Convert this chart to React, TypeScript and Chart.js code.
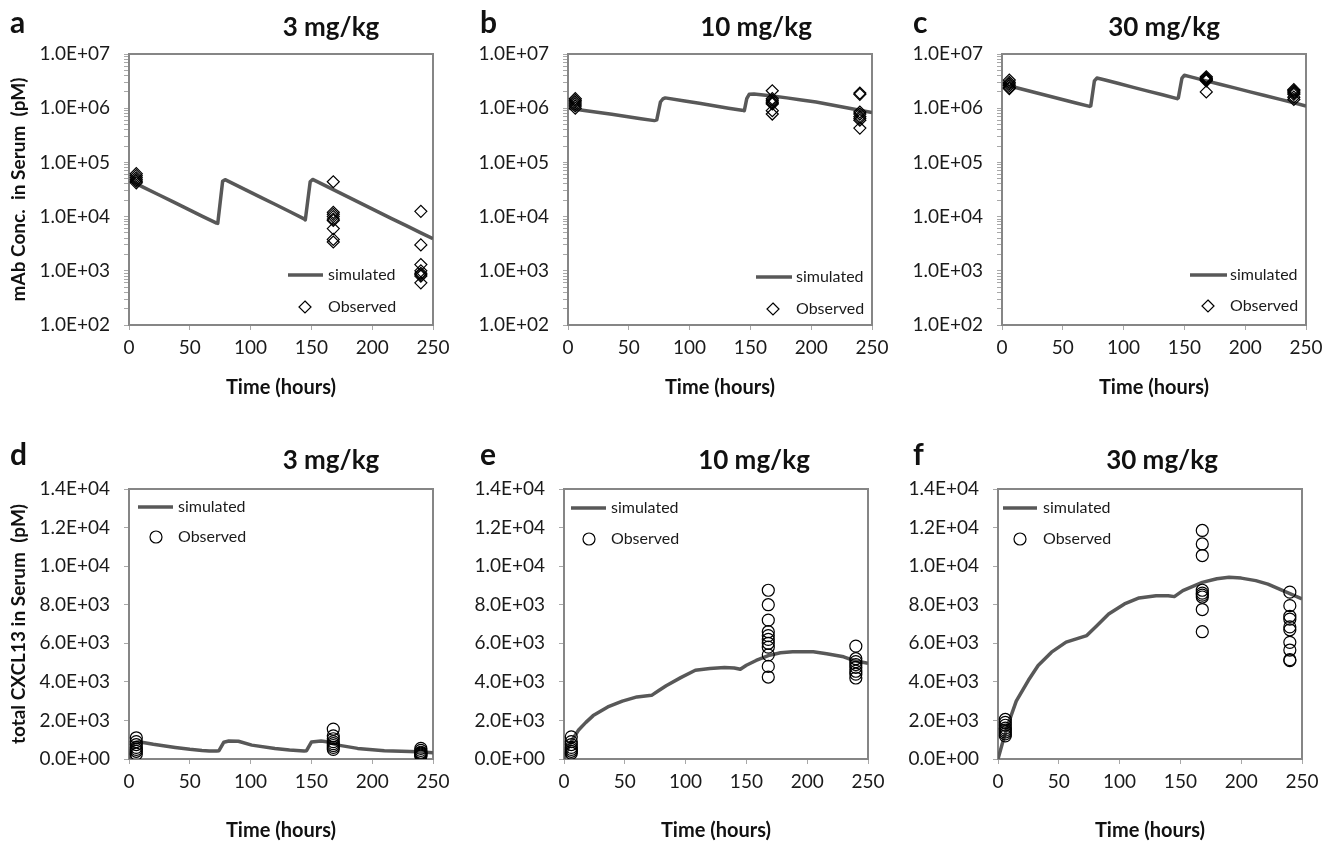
import React, { useEffect, useRef } from 'react';
import { Chart, registerables } from 'chart.js';

Chart.register(...registerables);

const FONT = 'Lato, "Open Sans", sans-serif';

// ---------------- data ----------------
const OBS_TIMES = [6, 168, 240];
const X_TICKS = [0, 50, 100, 150, 200, 250];
const LOG_DECADES = [1e2, 1e3, 1e4, 1e5, 1e6, 1e7];
const LIN_TICKS = [0, 2000, 4000, 6000, 8000, 10000, 12000, 14000];

// a: mAb 3 mg/kg
const simTimeA = [1, 12, 24, 36, 48, 60, 72, 73, 77, 79, 84, 96, 108, 120, 132, 144, 145, 149, 151, 156, 168, 180, 192, 204, 216, 228, 240, 250];
const simMabA = [46000, 34700, 25600, 18900, 13900, 10200, 7600, 7500, 45000, 48000, 42300, 31100, 22900, 16900, 12400, 9100, 8700, 44000, 48500, 42700, 31400, 23100, 17000, 12500, 9200, 6800, 5000, 3900];
const obsMabA = [
  [62000, 57000, 52000, 48000, 45000, 42000],
  [44000, 12000, 11000, 10000, 9000, 8500, 6000, 3800, 3400],
  [12500, 3000, 1300, 1000, 900, 850, 800, 600],
];

// b: mAb 10 mg/kg
const simTimeB = [1, 12, 24, 36, 48, 60, 71, 73, 76, 78, 80, 96, 108, 120, 132, 143, 145, 147, 149, 153, 168, 180, 192, 204, 216, 228, 240, 250];
const simMabB = [1.0e6, 9.2e5, 8.4e5, 7.7e5, 7.0e5, 6.4e5, 5.9e5, 6.1e5, 1.3e6, 1.48e6, 1.55e6, 1.36e6, 1.23e6, 1.11e6, 1.0e6, 9.2e5, 9.0e5, 1.5e6, 1.8e6, 1.83e6, 1.68e6, 1.55e6, 1.42e6, 1.3e6, 1.16e6, 1.03e6, 9.2e5, 8.3e5];
const obsMabB = [
  [1.5e6, 1.4e6, 1.3e6, 1.2e6, 1.1e6, 1.0e6],
  [2.1e6, 1.5e6, 1.4e6, 1.3e6, 1.25e6, 1.2e6, 9.0e5, 7.8e5],
  [1.9e6, 1.8e6, 8.5e5, 7.8e5, 7.0e5, 6.5e5, 6.0e5, 4.3e5],
];

// c: mAb 30 mg/kg
const simTimeC = [1, 12, 24, 36, 48, 60, 72, 73, 76, 78, 84, 96, 108, 120, 132, 144, 145, 148, 150, 156, 168, 180, 192, 204, 216, 228, 240, 250];
const simMabC = [2.75e6, 2.38e6, 2.03e6, 1.73e6, 1.48e6, 1.26e6, 1.08e6, 1.1e6, 3.2e6, 3.6e6, 3.35e6, 2.85e6, 2.42e6, 2.07e6, 1.77e6, 1.5e6, 1.55e6, 3.6e6, 4.05e6, 3.75e6, 3.2e6, 2.74e6, 2.35e6, 2.0e6, 1.72e6, 1.47e6, 1.26e6, 1.1e6];
const obsMabC = [
  [3.3e6, 3.0e6, 2.8e6, 2.6e6, 2.4e6, 2.3e6],
  [3.8e6, 3.6e6, 3.5e6, 3.4e6, 3.3e6, 3.2e6, 2.0e6],
  [2.2e6, 2.1e6, 2.0e6, 1.9e6, 1.8e6, 1.6e6, 1.45e6],
];

// d: CXCL13 3 mg/kg
const simTimeD = [0, 4, 8, 20, 38, 50, 60, 66, 72, 74, 78, 82, 90, 101, 120, 132, 144, 146, 150, 158, 164, 172, 188, 210, 224, 238, 250];
const simCxclD = [0, 850, 890, 760, 600, 500, 440, 420, 413, 430, 870, 930, 920, 720, 550, 470, 413, 430, 880, 930, 880, 720, 550, 430, 400, 380, 330];
const obsCxclD = [
  [1100, 900, 750, 600, 500, 400, 250],
  [1550, 1200, 1050, 900, 800, 700, 600, 500],
  [550, 450, 350, 300, 250, 200, 150],
];

// e: CXCL13 10 mg/kg
const simTimeE = [0, 3, 6, 12, 18, 24, 36, 48, 60, 72, 78, 84, 96, 108, 120, 132, 140, 145, 150, 158, 168, 178, 188, 205, 216, 230, 238, 250];
const simCxclE = [0, 500, 920, 1500, 1900, 2250, 2700, 3000, 3220, 3300, 3550, 3800, 4220, 4600, 4690, 4740, 4720, 4650, 4860, 5110, 5360, 5510, 5560, 5560, 5460, 5300, 5110, 4960];
const obsCxclE = [
  [1150, 900, 750, 600, 500, 400, 300],
  [8750, 8000, 7200, 6600, 6400, 6200, 6000, 5800, 5400, 4800, 4250],
  [5850, 5200, 5050, 4900, 4750, 4550, 4400, 4200],
];

// f: CXCL13 30 mg/kg
const simTimeF = [0, 4, 8.5, 15, 25, 33, 44, 56, 69, 73, 80, 91, 104, 116, 130, 140, 145, 152, 168, 180, 190, 200, 212, 222, 231, 240, 250];
const simCxclF = [0, 900, 1840, 3000, 4080, 4850, 5540, 6060, 6320, 6400, 6830, 7520, 8040, 8350, 8470, 8470, 8420, 8730, 9160, 9350, 9420, 9380, 9250, 9070, 8820, 8580, 8300];
const obsCxclF = [
  [2050, 1900, 1750, 1600, 1500, 1400, 1300, 1200],
  [11850, 11150, 10550, 8750, 8600, 8500, 8400, 7750, 6600],
  [8650, 7950, 7400, 7250, 6850, 6700, 6050, 5650, 5150, 5100],
];

// ---------------- layout / style ----------------
const SIM_COLOR = '#585858';
const FRAME_COLOR = '#868686';
const TICK_COLOR = '#a8a8a8';
const TEXT_COLOR = '#1a1a1a';

type Legend = { lineX1: number; lineX2: number; lineY: number; textX: number; markerX: number; markerY: number };
type PanelCfg = {
  id: string;
  letter: string;
  title: string;
  canvas: [number, number, number, number];
  plot: [number, number, number, number];
  letterPos: [number, number];
  titlePos: [number, number];
  legend: Legend;
  log: boolean;
  yTitle: string;
  yTitleX: number;
  xTitleY: number;
  marker: 'rectRot' | 'circle';
  simT: number[];
  simV: number[];
  obs: number[][];
};

const PANELS: PanelCfg[] = [
  {
    id: 'a', letter: 'a', title: '3 mg/kg',
    canvas: [0, 0, 460, 410], plot: [129, 54, 433, 325],
    letterPos: [10, 33], titlePos: [331, 36],
    legend: { lineX1: 288, lineX2: 323, lineY: 275, textX: 328, markerX: 305, markerY: 307 },
    log: true, yTitle: 'mAb Conc.  in Serum  (pM)', yTitleX: 19, xTitleY: 388, marker: 'rectRot',
    simT: simTimeA, simV: simMabA, obs: obsMabA,
  },
  {
    id: 'b', letter: 'b', title: '10 mg/kg',
    canvas: [445, 0, 460, 410], plot: [568, 54, 872, 325],
    letterPos: [480, 33], titlePos: [756, 36],
    legend: { lineX1: 756, lineX2: 792, lineY: 277, textX: 796, markerX: 773, markerY: 309 },
    log: true, yTitle: '', yTitleX: 0, xTitleY: 388, marker: 'rectRot',
    simT: simTimeB, simV: simMabB, obs: obsMabB,
  },
  {
    id: 'c', letter: 'c', title: '30 mg/kg',
    canvas: [885, 0, 451, 410], plot: [1002, 54, 1306, 325],
    letterPos: [913, 33], titlePos: [1164, 36],
    legend: { lineX1: 1190, lineX2: 1227, lineY: 275, textX: 1230, markerX: 1208, markerY: 306 },
    log: true, yTitle: '', yTitleX: 0, xTitleY: 388, marker: 'rectRot',
    simT: simTimeC, simV: simMabC, obs: obsMabC,
  },
  {
    id: 'd', letter: 'd', title: '3 mg/kg',
    canvas: [0, 410, 460, 437], plot: [129, 489, 433, 759],
    letterPos: [10, 465], titlePos: [331, 469],
    legend: { lineX1: 138, lineX2: 173, lineY: 507, textX: 178, markerX: 156, markerY: 537 },
    log: false, yTitle: 'total CXCL13 in Serum  (pM)', yTitleX: 18.5, xTitleY: 831, marker: 'circle',
    simT: simTimeD, simV: simCxclD, obs: obsCxclD,
  },
  {
    id: 'e', letter: 'e', title: '10 mg/kg',
    canvas: [445, 410, 460, 437], plot: [564, 489, 868, 759],
    letterPos: [480, 465], titlePos: [754, 469],
    legend: { lineX1: 571, lineX2: 606, lineY: 508, textX: 611, markerX: 589, markerY: 539 },
    log: false, yTitle: '', yTitleX: 0, xTitleY: 831, marker: 'circle',
    simT: simTimeE, simV: simCxclE, obs: obsCxclE,
  },
  {
    id: 'f', letter: 'f', title: '30 mg/kg',
    canvas: [885, 410, 451, 437], plot: [998, 489, 1302, 759],
    letterPos: [913, 465], titlePos: [1162, 469],
    legend: { lineX1: 1003, lineX2: 1037, lineY: 508, textX: 1043, markerX: 1020, markerY: 539 },
    log: false, yTitle: '', yTitleX: 0, xTitleY: 831, marker: 'circle',
    simT: simTimeF, simV: simCxclF, obs: obsCxclF,
  },
];

const TICK_SIZE = 19;
const X_TITLE_SIZE = 20;
const Y_TITLE_SIZE = 19;
const TITLE_SIZE = 26;
const LETTER_SIZE = 30;
const LEGEND_SIZE = 16;
const MARKER_R = 6;

function fmtE(v: number): string {
  if (v === 0) return '0.0E+00';
  const e = Math.floor(Math.log10(Math.abs(v)) + 1e-9);
  const m = v / Math.pow(10, e);
  return `${m.toFixed(1)}E${e >= 0 ? '+' : '-'}${String(Math.abs(e)).padStart(2, '0')}`;
}

function logTickValues(): number[] {
  const out: number[] = [];
  for (let i = 0; i < LOG_DECADES.length - 1; i++) {
    for (let m = 1; m <= 9; m++) out.push(m * LOG_DECADES[i]);
  }
  out.push(LOG_DECADES[LOG_DECADES.length - 1]);
  return out;
}

function drawMarker(ctx: CanvasRenderingContext2D, style: string, x: number, y: number, r: number) {
  ctx.beginPath();
  if (style === 'circle') {
    ctx.arc(x, y, r, 0, Math.PI * 2);
  } else {
    ctx.moveTo(x, y - r);
    ctx.lineTo(x + r, y);
    ctx.lineTo(x, y + r);
    ctx.lineTo(x - r, y);
    ctx.closePath();
  }
  ctx.stroke();
}

function buildChart(canvas: HTMLCanvasElement, p: PanelCfg): Chart {
  const [cl, ct, cw, ch] = p.canvas;
  const [pl, pt, pr, pb] = p.plot;
  const yWidth = pl - cl;
  const xHeight = ct + ch - pb;
  const padTop = pt - ct;
  const padRight = cl + cw - pr;
  const xTitlePadBottom = ct + ch - p.xTitleY - (X_TITLE_SIZE * 1.2) / 2;
  const yTitlePadTop = p.yTitleX - cl - (Y_TITLE_SIZE * 1.2) / 2;
  const xTickPad = 348 - 330 - (TICK_SIZE * 1.2) / 2;

  const simData = p.simT.map((t, i) => ({ x: t, y: p.simV[i] }));
  const obsData = p.obs.flatMap((vals, gi) => vals.map((v) => ({ x: OBS_TIMES[gi], y: v })));

  const overlay = {
    id: 'overlay_' + p.id,
    beforeDatasetsDraw(chart: any) {
      const { ctx, chartArea: a } = chart;
      ctx.save();
      ctx.strokeStyle = FRAME_COLOR;
      ctx.lineWidth = 2;
      ctx.strokeRect(a.left, a.top, a.right - a.left, a.bottom - a.top);
      ctx.restore();
    },
    afterDraw(chart: any) {
      const ctx: CanvasRenderingContext2D = chart.ctx;
      ctx.save();
      // panel letter
      ctx.fillStyle = '#111';
      ctx.textBaseline = 'alphabetic';
      ctx.textAlign = 'left';
      ctx.font = `bold ${LETTER_SIZE}px ${FONT}`;
      ctx.fillText(p.letter, p.letterPos[0] - cl, p.letterPos[1] - ct);
      // title
      ctx.textAlign = 'center';
      ctx.font = `bold ${TITLE_SIZE}px ${FONT}`;
      ctx.fillText(p.title, p.titlePos[0] - cl, p.titlePos[1] - ct);
      // legend
      const L = p.legend;
      ctx.strokeStyle = SIM_COLOR;
      ctx.lineWidth = 3.5;
      ctx.lineCap = 'butt';
      ctx.beginPath();
      ctx.moveTo(L.lineX1 - cl, L.lineY - ct);
      ctx.lineTo(L.lineX2 - cl, L.lineY - ct);
      ctx.stroke();
      ctx.strokeStyle = '#000';
      ctx.lineWidth = 1.2;
      drawMarker(ctx, p.marker, L.markerX - cl, L.markerY - ct, MARKER_R);
      ctx.fillStyle = TEXT_COLOR;
      ctx.textAlign = 'left';
      ctx.textBaseline = 'middle';
      ctx.font = `${LEGEND_SIZE}px ${FONT}`;
      ctx.fillText('simulated', L.textX - cl, L.lineY - ct);
      ctx.fillText('Observed', L.textX - cl, L.markerY - ct);
      ctx.restore();
    },
  };

  const yTicks = p.log ? logTickValues() : LIN_TICKS;

  return new Chart(canvas, {
    type: 'scatter',
    data: {
      datasets: [
        {
          type: 'scatter',
          label: 'Observed',
          data: obsData,
          order: 0,
          pointStyle: p.marker,
          pointRadius: MARKER_R,
          pointBorderWidth: 1.2,
          pointBorderColor: '#000',
          pointBackgroundColor: 'rgba(0,0,0,0)',
          showLine: false,
        } as any,
        {
          type: 'line',
          label: 'simulated',
          data: simData,
          order: 1,
          borderColor: SIM_COLOR,
          borderWidth: 3.5,
          pointRadius: 0,
          tension: 0,
          fill: false,
          borderJoinStyle: 'round',
          borderCapStyle: 'butt',
        } as any,
      ],
    },
    options: {
      responsive: false,
      animation: false,
      events: [],
      layout: { padding: { left: 0, top: padTop, right: padRight, bottom: 0 } },
      plugins: { legend: { display: false }, tooltip: { enabled: false }, title: { display: false } },
      scales: {
        x: {
          type: 'linear',
          min: 0,
          max: 250,
          afterBuildTicks: (s: any) => {
            s.ticks = X_TICKS.map((v) => ({ value: v }));
          },
          afterFit: (s: any) => {
            s.height = xHeight;
          },
          ticks: {
            autoSkip: false,
            maxRotation: 0,
            padding: xTickPad,
            color: TEXT_COLOR,
            font: { family: FONT, size: TICK_SIZE },
            callback: (v: any) => String(v),
          },
          grid: { display: true, drawOnChartArea: false, drawTicks: true, tickLength: 5, color: TICK_COLOR, lineWidth: 1 },
          border: { display: false },
          title: {
            display: true,
            text: 'Time (hours)',
            color: '#111',
            font: { family: FONT, size: X_TITLE_SIZE, weight: 'bold' },
            padding: { top: 0, bottom: xTitlePadBottom },
          },
        },
        y: {
          type: p.log ? 'logarithmic' : 'linear',
          min: p.log ? LOG_DECADES[0] : LIN_TICKS[0],
          max: p.log ? LOG_DECADES[LOG_DECADES.length - 1] : LIN_TICKS[LIN_TICKS.length - 1],
          afterBuildTicks: (s: any) => {
            s.ticks = yTicks.map((v) => ({ value: v }));
          },
          afterFit: (s: any) => {
            s.width = yWidth;
          },
          ticks: {
            autoSkip: false,
            padding: 14,
            color: TEXT_COLOR,
            font: { family: FONT, size: TICK_SIZE },
            callback: (v: any) => {
              const n = Number(v);
              if (p.log) {
                const lg = Math.log10(n);
                return Math.abs(lg - Math.round(lg)) < 1e-6 ? fmtE(n) : '';
              }
              return fmtE(n);
            },
          },
          grid: { display: true, drawOnChartArea: false, drawTicks: true, tickLength: 5, color: TICK_COLOR, lineWidth: 1 },
          border: { display: false },
          title: {
            display: !!p.yTitle,
            text: p.yTitle,
            color: '#111',
            font: { family: FONT, size: Y_TITLE_SIZE, weight: 'bold' },
            padding: { top: yTitlePadTop, bottom: 0 },
          },
        },
      },
    } as any,
    plugins: [overlay as any],
  });
}

function PanelChart({ p }: { p: PanelCfg }) {
  const ref = useRef<HTMLCanvasElement>(null);
  useEffect(() => {
    if (!ref.current) return;
    const chart = buildChart(ref.current, p);
    return () => chart.destroy();
  }, [p]);
  const [l, t, w, h] = p.canvas;
  return (
    <canvas
      ref={ref}
      width={w}
      height={h}
      style={{ position: 'absolute', left: l, top: t, width: w, height: h, display: 'block' }}
    />
  );
}

export default function App() {
  return (
    <div style={{ position: 'absolute', left: 0, top: 0, width: 1336, height: 847, background: '#fff', overflow: 'hidden' }}>
      {PANELS.map((p) => (
        <PanelChart key={p.id} p={p} />
      ))}
    </div>
  );
}
